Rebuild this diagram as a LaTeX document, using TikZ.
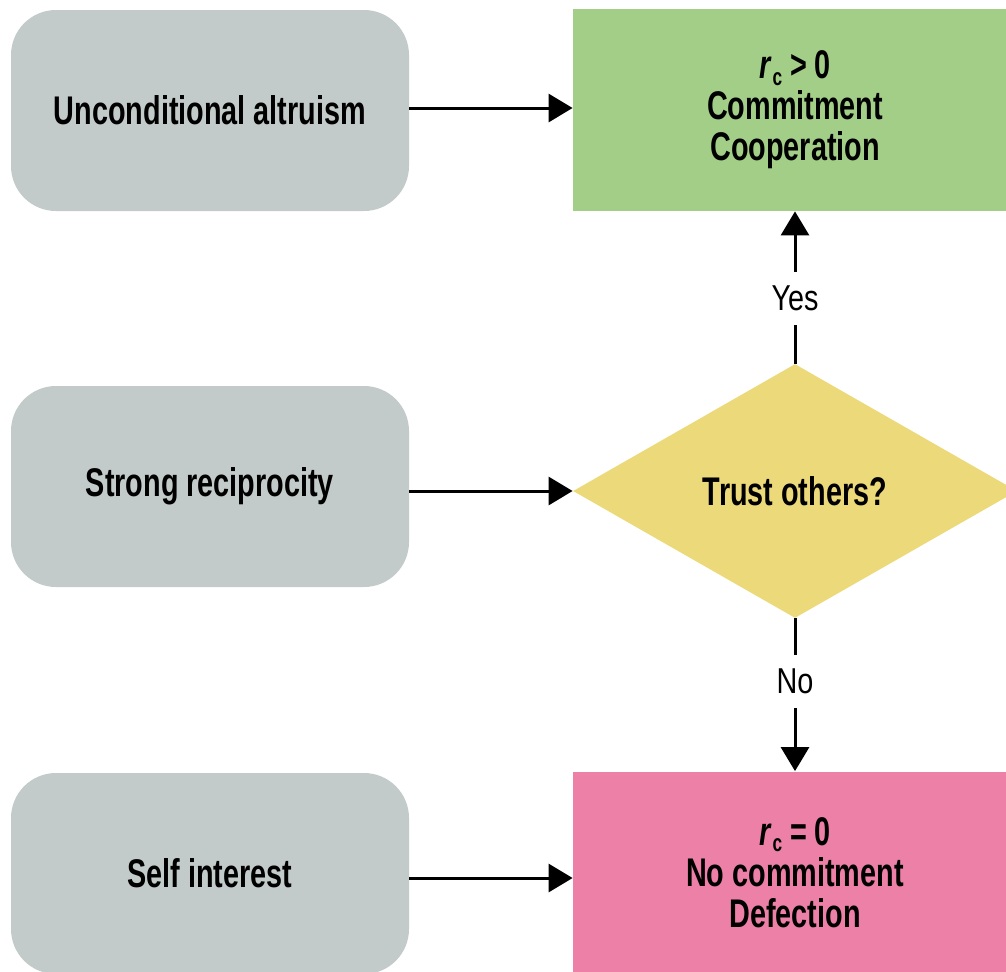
\documentclass[tikz,border=0pt]{standalone}
\usepackage{fontspec}
\setmainfont{Liberation Sans}[FakeStretch=0.72]
\newfontfamily\lblfont{Liberation Sans}[FakeStretch=0.8]
\usetikzlibrary{shapes.geometric,arrows.meta}

\definecolor{boxgray}{RGB}{194,203,201}
\definecolor{coopgreen}{RGB}{163,206,135}
\definecolor{trustyellow}{RGB}{236,217,122}
\definecolor{defpink}{RGB}{236,128,166}

\tikzset{
  motive/.style={draw=none, fill=boxgray, rounded corners=22.5pt,
    minimum width=199pt, minimum height=100.5pt, inner sep=0pt,
    font=\fontsize{20}{24}\selectfont\bfseries, align=center},
  outcome/.style={draw=none, minimum width=222pt, minimum height=101pt,
    inner sep=0pt, font=\fontsize{20}{20.5}\selectfont\bfseries, align=center},
  decision/.style={diamond, draw=none, fill=trustyellow, minimum width=222pt,
    minimum height=127pt, inner sep=0pt, aspect=1.75,
    font=\fontsize{20}{24}\selectfont\bfseries},
  flow/.style={line width=1.5pt, -{Triangle[length=12pt,width=14pt]}},
  answer/.style={fill=white, inner sep=0pt, minimum height=26.5pt,
    minimum width=30pt, font=\fontsize{18}{20}\selectfont\lblfont}
}

\newcommand{\rcsym}{\textit{r}\kern0.5pt\raisebox{-0.3ex}{\fontsize{12}{12}\selectfont c}}

\begin{document}
\begin{tikzpicture}[x=0.5pt,y=-0.5pt]
  \useasboundingbox (0,0) rectangle (1006,971);
  \clip (0,0) rectangle (1006,971);

  % motives on the left
  \node[motive] (ua) at (210,110.5) {Unconditional altruism};
  \node[motive] (sr) at (210,486.5) {Strong reciprocity};
  \node[motive] (si) at (210,873.5) {Self interest};

  % outcomes and the decision
  \node[outcome, fill=coopgreen] (coop) at (795,110)
    {\rcsym{} > 0\\Commitment\\Cooperation};
  \node[decision] (trust) at (795,491) {Trust others?};
  \node[outcome, fill=defpink] (defect) at (795,872.5)
    {\rcsym{} = 0\\No commitment\\Defection};

  % connectors
  \draw[flow] (ua.east |- 0,108) -- (coop.west |- 0,108);
  \draw[flow] (sr.east |- trust.west) -- (trust.west);
  \draw[flow] (si.east |- 0,878) -- (defect.west |- 0,878);
  \draw[flow] (trust.north) -- node[answer, pos=0.43] {Yes} (coop.south);
  \draw[flow] (trust.south) -- node[answer, pos=0.41] {No} (defect.north);
\end{tikzpicture}
\end{document}
